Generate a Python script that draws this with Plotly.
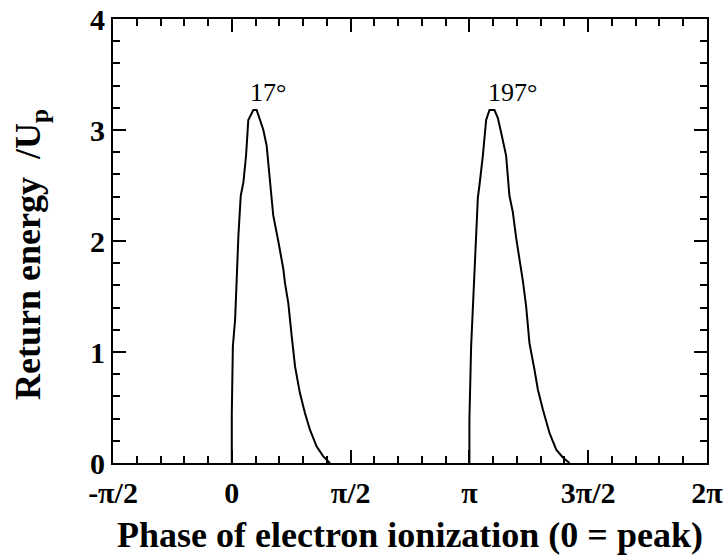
import numpy as np
import plotly.graph_objects as go

# Phase of ionization (degrees) and return energy (in units of Up)
phase1_deg = [0.0, 0.0, 0.8, 2.5, 3.7, 5.0, 6.8, 8.8, 10.8, 12.5, 16.3, 18.8,
              21.4, 23.9, 26.4, 28.9, 31.4, 35.2, 39.0, 40.3, 42.8, 45.4,
              47.9, 51.6, 55.4, 59.2, 64.2, 69.3, 74.3]
energy1 = [0.0, 0.45, 1.05, 1.29, 1.65, 2.05, 2.41, 2.53, 2.77, 3.09, 3.18, 3.18,
           3.09, 3.00, 2.86, 2.53, 2.23, 2.00, 1.75, 1.62, 1.44, 1.14,
           0.87, 0.63, 0.45, 0.30, 0.15, 0.06, 0.0]

phase2_deg = [180.0, 180.0, 181.3, 183.8, 185.1, 186.4, 187.6, 190.2, 192.7, 195.2,
              199.0, 201.5, 204.0, 207.8, 210.3, 212.9, 215.4, 217.9, 220.5,
              223.0, 225.5, 229.3, 231.9, 235.7, 240.7, 245.8, 250.8, 255.8]
energy2 = [0.0, 0.39, 1.05, 1.65, 2.05, 2.39, 2.50, 2.77, 3.09, 3.18,
           3.18, 3.11, 2.98, 2.77, 2.41, 2.26, 2.03, 1.85, 1.64,
           1.41, 1.08, 0.84, 0.66, 0.48, 0.27, 0.12, 0.05, 0.0]

peak_labels = ["17°", "197°"]
peak_phase_deg = [17, 197]
peak_energy = [3.18, 3.18]

x_tick_vals = [-np.pi / 2, 0, np.pi / 2, np.pi, 3 * np.pi / 2, 2 * np.pi]
x_tick_text = ["-π/2", "0", "π/2", "π", "3π/2", "2π"]
y_tick_vals = [0, 1, 2, 3, 4]

FONT = "Liberation Serif"

fig = go.Figure()
for ph, en in [(phase1_deg, energy1), (phase2_deg, energy2)]:
    fig.add_trace(go.Scatter(
        x=np.radians(ph), y=en, mode="lines",
        line=dict(color="black", width=2), showlegend=False,
    ))

for lab, ph, en in zip(peak_labels, peak_phase_deg, peak_energy):
    fig.add_annotation(
        x=np.radians(ph), y=en, text=lab, showarrow=False,
        xanchor="left", yanchor="bottom", xshift=-6, yshift=1,
        font=dict(family=FONT, size=26, color="black"),
    )

axis_common = dict(
    showline=True, linecolor="black", linewidth=2, mirror="allticks",
    ticks="inside", tickcolor="black", tickwidth=2, ticklen=13,
    showgrid=False, zeroline=False,
    tickfont=dict(family=FONT, size=30, color="black"),
)

fig.update_xaxes(
    range=[-np.pi / 2, 2 * np.pi],
    tickmode="array", tickvals=x_tick_vals,
    ticktext=["<b>%s</b>" % t for t in x_tick_text],
    ticklabelstandoff=2,
    minor=dict(ticks="inside", tick0=0, dtick=np.pi / 10, ticklen=7,
               tickwidth=1.5, tickcolor="black"),
    title=dict(text="<b>Phase of electron ionization (0 = peak)</b>",
               font=dict(family=FONT, size=36, color="black"), standoff=14),
    **axis_common,
)
fig.update_yaxes(
    range=[0, 4],
    tickmode="array", tickvals=y_tick_vals,
    ticktext=["<b>%d</b>" % v for v in y_tick_vals],
    minor=dict(ticks="inside", tick0=0, dtick=0.2, ticklen=7,
               tickwidth=1.5, tickcolor="black"),
    title=dict(text="<b>Return energy &nbsp;/U<sub>p</sub>&nbsp;&nbsp;&nbsp;</b>",
               font=dict(family=FONT, size=36, color="black"), standoff=38),
    **axis_common,
)

fig.update_layout(
    width=725, height=560,
    margin=dict(l=113, r=18, t=19, b=97, autoexpand=False),
    paper_bgcolor="white", plot_bgcolor="white",
)

fig.write_html("out.html")
